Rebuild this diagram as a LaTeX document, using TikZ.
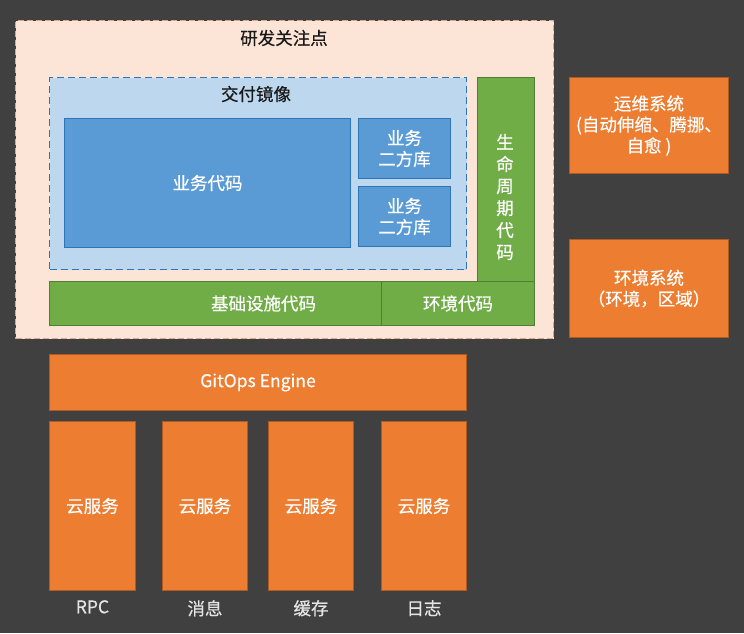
\documentclass[tikz,border=0pt]{standalone}
\usepackage{fontspec}
\setmainfont{Noto Sans CJK SC}[BoldFont={Noto Sans CJK SC}, BoldFeatures={FakeBold=0.4}]
\usetikzlibrary{positioning}
\definecolor{bgdark}{HTML}{404040}
\definecolor{peach}{HTML}{FCE4D6}
\definecolor{peachline}{HTML}{D9A889}
\definecolor{paleblue}{HTML}{BDD7EE}
\definecolor{midblue}{HTML}{5B9BD5}
\definecolor{darkblue}{HTML}{2E75B6}
\definecolor{leaf}{HTML}{70AD47}
\definecolor{darkleaf}{HTML}{507E32}
\definecolor{tangerine}{HTML}{ED7D31}
\definecolor{rust}{HTML}{AE5A21}
\tikzset{
  block/.style={rectangle, anchor=north west, inner sep=0pt, align=center,
    line width=1pt, text=white, font=\fontsize{17.5}{21}\selectfont\bfseries},
  bluebox/.style={block, fill=midblue, draw=darkblue},
  greenbox/.style={block, fill=leaf, draw=darkleaf},
  orangebox/.style={block, fill=tangerine, draw=rust},
  boxtitle/.style={text=black!90, font=\fontsize{17.5}{21}\selectfont\bfseries, inner sep=0pt},
  tag/.style={text=white!90!black, font=\fontsize{17.5}{21}\selectfont\bfseries, inner sep=0pt}
}
\begin{document}
\begin{tikzpicture}[x=1pt, y=-1pt]
		\fill[bgdark] (0,0) rectangle (744,633);
		\useasboundingbox (0,0) rectangle (744,633);
		% focus area of developers
		\node[block, fill=peach, draw=peachline, dash pattern=on 6pt off 3pt,
		  minimum width=538pt, minimum height=318pt] (focus) at (15,20) {};
		\node[boxtitle] (focustitle) at (284,38) {研发关注点};
		% delivery image
		\node[block, fill=paleblue, draw=darkblue, dash pattern=on 7pt off 4pt,
		  minimum width=417pt, minimum height=192pt] (image) at (49,77) {};
		\node[boxtitle] (imagetitle) at (256,94) {交付镜像};
		\node[bluebox, minimum width=286pt, minimum height=129pt] (biz) at (64,118) {业务代码};
		\node[bluebox, minimum width=92pt, minimum height=60pt] (libtop) at (358,118) {业务\\二方库};
		\node[bluebox, minimum width=92pt, minimum height=60pt] (libbot) at (358,186) {业务\\二方库};
		% code layers
		\node[greenbox, minimum width=57pt, minimum height=204pt] (life) at (477,77) {};
		\node[tag, text=white, align=center, font=\fontsize{17.5}{22}\selectfont\bfseries]
		  (lifetext) at (505,197) {生\\命\\周\\期\\代\\码};
		\node[greenbox, minimum width=332pt, minimum height=44pt] (infra) at (49,281) {\hspace*{96pt}基础设施代码};
		\node[greenbox, minimum width=153pt, minimum height=44pt] (envcode) at (381,281) {环境代码};
		% systems on the right
		\node[orangebox, minimum width=159pt, minimum height=96pt] (ops) at (569,77)
		  {运维系统\\(自动伸缩、腾挪、\\自愈 )};
		\node[orangebox, minimum width=159pt, minimum height=98pt] (envsys) at (569,239)
		  {环境系统\\（环境，区域）};
		% engine and cloud services
		\node[orangebox, minimum width=417pt, minimum height=56pt] (engine) at (49,354) {GitOps Engine};
		\node[orangebox, minimum width=86pt, minimum height=169pt] (rpc) at (49,421) {云服务};
		\node[orangebox, minimum width=85pt, minimum height=169pt] (mq) at (162,421) {云服务};
		\node[orangebox, minimum width=85pt, minimum height=169pt] (cache) at (268,421) {云服务};
		\node[orangebox, minimum width=85pt, minimum height=169pt] (log) at (381,421) {云服务};
		\node[tag, below=9pt of rpc] (rpclabel) {RPC};
		\node[tag, below=9pt of mq] (mqlabel) {消息};
		\node[tag, below=9pt of cache] (cachelabel) {缓存};
		\node[tag, below=9pt of log] (loglabel) {日志};
	\end{tikzpicture}
\end{document}
